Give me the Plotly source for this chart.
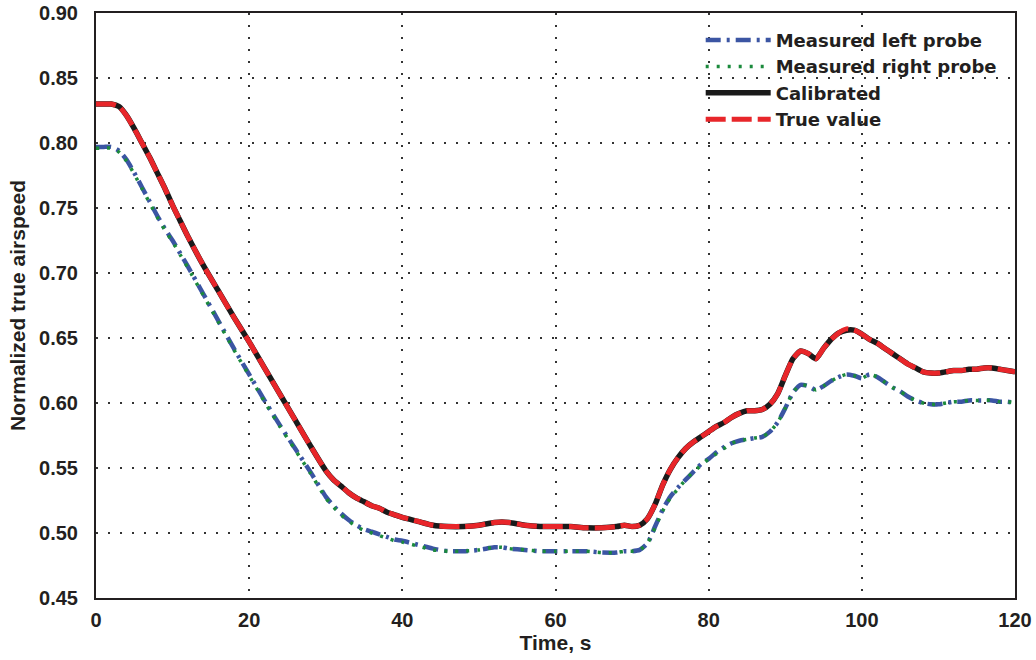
import plotly.graph_objects as go

# ---- data ----
time_s = [0, 1, 2, 3, 4, 5, 6, 7, 8, 9, 10, 11, 12, 14, 16, 18, 20, 22, 24, 26, 28, 30,
          31, 32, 33, 34, 35, 36, 37, 38, 39, 40, 42, 44, 46, 48, 50, 52, 53, 54, 56, 58,
          60, 62, 64, 66, 68, 69, 70, 71, 72, 73, 74, 75, 76, 77, 78, 79, 80, 81, 82, 83,
          84, 85, 86, 87, 88, 89, 90, 91, 92, 93, 94, 95, 96, 97, 98, 99, 100, 101, 102,
          103, 104, 105, 106, 107, 108, 109, 110, 111, 112, 113, 114, 115, 116, 117, 118,
          119, 120]

calibrated = [0.830, 0.830, 0.830, 0.828, 0.821, 0.811, 0.800, 0.789, 0.777, 0.765, 0.752,
              0.740, 0.728, 0.706, 0.686, 0.666, 0.647, 0.627, 0.607, 0.587, 0.567, 0.548,
              0.541, 0.536, 0.531, 0.527, 0.524, 0.521, 0.519, 0.516, 0.514, 0.512, 0.509,
              0.506, 0.505, 0.505, 0.506, 0.508, 0.5085, 0.508, 0.506, 0.505, 0.505, 0.505,
              0.504, 0.504, 0.505, 0.506, 0.505, 0.506, 0.511, 0.522, 0.537, 0.549, 0.558,
              0.565, 0.570, 0.574, 0.578, 0.582, 0.585, 0.589, 0.592, 0.594, 0.594, 0.595,
              0.599, 0.607, 0.621, 0.634, 0.640, 0.638, 0.634, 0.642, 0.649, 0.654, 0.656,
              0.656, 0.653, 0.649, 0.646, 0.642, 0.638, 0.634, 0.630, 0.627, 0.624, 0.623,
              0.623, 0.624, 0.625, 0.625, 0.626, 0.626, 0.627, 0.627, 0.626, 0.625, 0.624]

true_value = [0.830, 0.830, 0.830, 0.828, 0.821, 0.811, 0.800, 0.789, 0.777, 0.765, 0.752,
              0.740, 0.728, 0.706, 0.686, 0.666, 0.647, 0.627, 0.607, 0.587, 0.567, 0.548,
              0.541, 0.536, 0.531, 0.527, 0.524, 0.521, 0.519, 0.516, 0.514, 0.512, 0.509,
              0.506, 0.505, 0.505, 0.506, 0.508, 0.5085, 0.508, 0.506, 0.505, 0.505, 0.505,
              0.504, 0.504, 0.505, 0.506, 0.505, 0.506, 0.511, 0.522, 0.537, 0.549, 0.558,
              0.565, 0.570, 0.574, 0.578, 0.582, 0.585, 0.589, 0.592, 0.594, 0.594, 0.595,
              0.599, 0.607, 0.621, 0.634, 0.640, 0.638, 0.634, 0.642, 0.649, 0.654, 0.657,
              0.656, 0.653, 0.649, 0.646, 0.642, 0.638, 0.634, 0.630, 0.627, 0.624, 0.623,
              0.623, 0.624, 0.625, 0.625, 0.626, 0.626, 0.627, 0.627, 0.626, 0.625, 0.624]

left_probe = [0.797, 0.797, 0.797, 0.794, 0.787, 0.777, 0.766, 0.755, 0.744, 0.734, 0.725,
              0.715, 0.705, 0.684, 0.663, 0.642, 0.622, 0.602, 0.583, 0.565, 0.547, 0.528,
              0.521, 0.515, 0.510, 0.506, 0.503, 0.501, 0.499, 0.497, 0.495, 0.494, 0.491,
              0.488, 0.486, 0.486, 0.487, 0.489, 0.489, 0.488, 0.487, 0.486, 0.486, 0.486,
              0.486, 0.485, 0.485, 0.486, 0.486, 0.487, 0.492, 0.505, 0.518, 0.528, 0.535,
              0.541, 0.547, 0.553, 0.557, 0.562, 0.566, 0.569, 0.571, 0.572, 0.573, 0.574,
              0.578, 0.585, 0.596, 0.608, 0.614, 0.613, 0.610, 0.613, 0.617, 0.620, 0.622,
              0.621, 0.619, 0.622, 0.620, 0.616, 0.612, 0.609, 0.605, 0.602, 0.600, 0.599,
              0.599, 0.600, 0.601, 0.601, 0.602, 0.602, 0.602, 0.602, 0.601, 0.601, 0.600]

right_probe = [0.796, 0.796, 0.796, 0.793, 0.786, 0.776, 0.765, 0.754, 0.743, 0.733, 0.724,
               0.714, 0.704, 0.683, 0.662, 0.641, 0.621, 0.601, 0.582, 0.564, 0.546, 0.527,
               0.520, 0.514, 0.509, 0.505, 0.502, 0.500, 0.498, 0.496, 0.494, 0.493, 0.490,
               0.487, 0.486, 0.486, 0.487, 0.489, 0.489, 0.488, 0.487, 0.486, 0.486, 0.486,
               0.486, 0.485, 0.485, 0.486, 0.486, 0.487, 0.492, 0.504, 0.517, 0.527, 0.534,
               0.541, 0.547, 0.552, 0.557, 0.561, 0.565, 0.569, 0.571, 0.572, 0.573, 0.574,
               0.578, 0.585, 0.596, 0.608, 0.614, 0.613, 0.610, 0.613, 0.617, 0.620, 0.622,
               0.621, 0.619, 0.622, 0.620, 0.616, 0.612, 0.609, 0.605, 0.602, 0.600, 0.599,
               0.599, 0.600, 0.601, 0.601, 0.602, 0.602, 0.602, 0.602, 0.601, 0.601, 0.600]

x_ticks = [0, 20, 40, 60, 80, 100, 120]
y_ticks = [0.45, 0.50, 0.55, 0.60, 0.65, 0.70, 0.75, 0.80, 0.85, 0.90]

FONT = "Liberation Sans, Arial, Helvetica, sans-serif"
LEG_FONT = "DejaVu Sans, Liberation Sans, Arial, sans-serif"
TXT = "#231f20"
FS = 20

fig = go.Figure()
fig.add_trace(go.Scatter(x=time_s, y=left_probe, mode="lines", name="Measured left probe",
                         line=dict(color="#3b55a3", width=4.5, dash="15px,6px,3px,6px",
                                   shape="spline", smoothing=0.6)))
fig.add_trace(go.Scatter(x=time_s, y=right_probe, mode="lines", name="Measured right probe",
                         line=dict(color="#1b8a3c", width=3.5, dash="3px,8px",
                                   shape="spline", smoothing=0.6)))
fig.add_trace(go.Scatter(x=time_s, y=calibrated, mode="lines", name="Calibrated",
                         line=dict(color="#1a1a1a", width=5.5, shape="spline", smoothing=0.6)))
fig.add_trace(go.Scatter(x=time_s, y=true_value, mode="lines", name="True value",
                         line=dict(color="#e8262a", width=5, dash="20px,6px",
                                   shape="spline", smoothing=0.6)))

axis_common = dict(showline=True, linecolor="#231f20", linewidth=2, mirror=True,
                   showgrid=True, gridcolor="#333333", gridwidth=1.5, griddash="2px,10px",
                   zeroline=False, ticks="outside", tickcolor="rgba(0,0,0,0)",
                   ticklabeloverflow="allow",
                   tickfont=dict(family=FONT, size=FS, color=TXT, weight="bold"))

fig.update_xaxes(range=[0, 120], tickvals=x_ticks, ticklen=3,
                 title=dict(text="Time, s", standoff=0,
                            font=dict(family=FONT, size=21, color=TXT, weight="bold")),
                 **axis_common)
fig.update_yaxes(range=[0.45, 0.90], tickvals=y_ticks, tickformat=".2f", ticklen=12,
                 title=dict(text="Normalized true airspeed", standoff=8,
                            font=dict(family=FONT, size=21, color=TXT, weight="bold")),
                 **axis_common)

fig.update_layout(
    width=1036, height=660,
    margin=dict(l=96, r=21, t=13, b=62, autoexpand=False),
    paper_bgcolor="white", plot_bgcolor="white",
    font=dict(family=FONT, color=TXT),
    showlegend=True,
    legend=dict(x=0.658, y=0.985, xanchor="left", yanchor="top",
                bgcolor="rgba(255,255,255,0)", borderwidth=0,
                itemwidth=65, tracegroupgap=0,
                font=dict(family=LEG_FONT, size=18, color=TXT, weight="bold")),
)

# remove the default page margin so the figure sits at the window's top-left corner
fig.write_html("out.html", config={"displayModeBar": False},
               post_script="document.body.style.margin='0';document.body.style.overflow='hidden';")
